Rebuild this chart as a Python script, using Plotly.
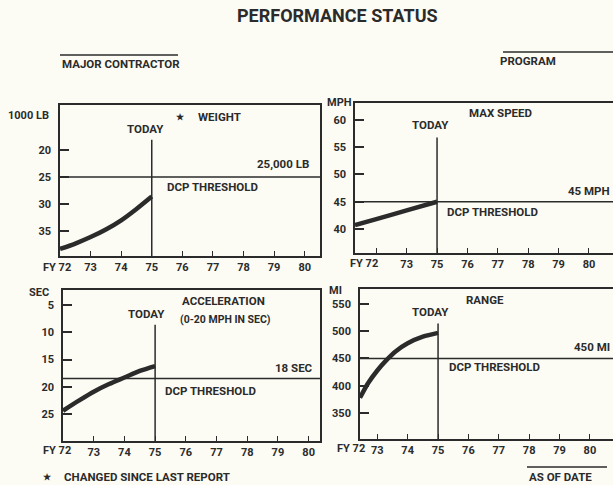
import plotly.graph_objects as go

W, H = 613, 485

# ---------------- data ----------------
today_year = 75

weight_years = [72, 72.5, 73, 73.5, 74, 74.5, 75]
weight_klb = [38.3, 37.3, 36.1, 34.7, 33.0, 30.9, 28.6]
weight_threshold = 25
weight_yticks = [20, 25, 30, 35]
weight_xtick_vals = [73, 74, 75, 76, 77, 78, 79, 80]
weight_xtick_text = ["73", "74", "75", "76", "77", "78", "79", "80"]

speed_years = [72.3, 73, 74, 75]
speed_mph = [40.7, 41.8, 43.4, 45.0]
speed_threshold = 45
speed_yticks = [40, 45, 50, 55, 60]
speed_xtick_vals = [73, 74, 75, 76, 77, 78, 79, 80]
speed_xtick_text = ["", "73", "75", "76", "77", "78", "79", "80"]

accel_years = [72, 72.5, 73, 73.5, 74, 74.5, 75]
accel_sec = [24.4, 22.6, 20.9, 19.5, 18.3, 17.1, 16.2]
accel_threshold = 18.5
accel_yticks = [5, 10, 15, 20, 25]
accel_xtick_vals = [73, 74, 75, 76, 77, 78, 79, 80]
accel_xtick_text = ["73", "74", "75", "76", "77", "78", "79", "80"]

range_years = [72.43, 72.7, 73.0, 73.3, 73.6, 74.0, 74.5, 75]
range_mi = [378, 405, 428, 447, 463, 478, 490, 497]
range_threshold = 450
range_yticks = [350, 400, 450, 500, 550]
range_xtick_vals = [73, 74, 75, 76, 77, 78, 79, 80]
range_xtick_text = ["73", "74", "75", "76", "77", "78", "79", "80"]

first_year_label = "FY 72"

# ---------------- style ----------------
FONT = "Roboto, Liberation Sans, sans-serif"
INK = "#2b2b2b"
BG = "#fcfcf5"


def px(x, y):
    return x / W, 1 - y / H


def dom_x(a, b):
    return [a / W, min(b / W, 1.0)]


def dom_y(top, bottom):
    return [1 - bottom / H, 1 - top / H]


panels = [
    dict(xs=weight_years, ys=weight_klb, thr=weight_threshold, yt=weight_yticks,
         xtv=weight_xtick_vals, xtt=weight_xtick_text,
         xd=dom_x(60, 320), yd=dom_y(105, 256), xr=[72, 80.5], yr=[39.6, 11.7], mirror=True),
    dict(xs=speed_years, ys=speed_mph, thr=speed_threshold, yt=speed_yticks,
         xtv=speed_xtick_vals, xtt=speed_xtick_text,
         xd=dom_x(355, 613), yd=dom_y(103, 253), xr=[72.3, 80.79], yr=[35.6, 63.1], mirror=False),
    dict(xs=accel_years, ys=accel_sec, thr=accel_threshold, yt=accel_yticks,
         xtv=accel_xtick_vals, xtt=accel_xtick_text,
         xd=dom_x(63, 320), yd=dom_y(290, 441), xr=[72, 80.37], yr=[29.95, 2.25], mirror=True),
    dict(xs=range_years, ys=range_mi, thr=range_threshold, yt=range_yticks,
         xtv=range_xtick_vals, xtt=range_xtick_text,
         xd=dom_x(360, 613), yd=dom_y(289, 439), xr=[72.43, 80.76], yr=[302.3, 577.5], mirror=False),
]

fig = go.Figure()
shapes = []
layout = {}

for i, p in enumerate(panels, start=1):
    sfx = "" if i == 1 else str(i)
    xa, ya = "x" + sfx, "y" + sfx
    fig.add_trace(go.Scatter(
        x=p["xs"], y=p["ys"], xaxis=xa, yaxis=ya, mode="lines",
        line=dict(color=INK, width=4.5, shape="spline", smoothing=0.8),
        showlegend=False, hoverinfo="skip"))
    layout["xaxis" + sfx] = dict(
        domain=p["xd"], range=p["xr"], anchor=ya, showgrid=False, zeroline=False,
        showline=True, mirror=True, linecolor=INK, linewidth=1.6,
        ticks="inside", ticklen=5, tickwidth=1.3, tickcolor=INK,
        tickvals=p["xtv"], ticktext=p["xtt"],
        tickfont=dict(family=FONT, size=11, color=INK, weight="bold"),
        fixedrange=True)
    layout["yaxis" + sfx] = dict(
        domain=p["yd"], range=p["yr"], anchor=xa, showgrid=False, zeroline=False,
        showline=True, mirror=p["mirror"], linecolor=INK, linewidth=1.6,
        ticks="inside", ticklen=9, tickwidth=1.5, tickcolor=INK,
        tickvals=p["yt"], ticklabelstandoff=5,
        tickfont=dict(family=FONT, size=11, color=INK, weight="bold"),
        fixedrange=True)
    # DCP threshold line
    shapes.append(dict(type="line", xref=xa + " domain", yref=ya, x0=0, x1=1,
                       y0=p["thr"], y1=p["thr"], line=dict(color=INK, width=1.5)))
    # TODAY line
    shapes.append(dict(type="line", xref=xa, yref=ya + " domain", x0=today_year, x1=today_year,
                       y0=0, y1=0.77, line=dict(color=INK, width=1.5)))

# header / footer rules
for (x0, y0, x1, y1) in [(60, 55, 178, 55), (503, 52, 613, 52), (527, 467, 607, 467)]:
    a = px(x0, y0)
    b = px(x1, y1)
    shapes.append(dict(type="line", xref="paper", yref="paper", x0=a[0], y0=a[1], x1=b[0], y1=b[1],
                       line=dict(color=INK, width=1.5)))

texts = [
    # (text, x, y, xanchor, size)
    ("PERFORMANCE STATUS", 337, 16, "center", 18),
    ("MAJOR CONTRACTOR", 60, 64, "left", 11.5),
    ("PROGRAM", 498, 61, "left", 11.5),
    ("★", 48, 477, "center", 9),
    ("CHANGED SINCE LAST REPORT", 62, 477, "left", 11.5),
    ("AS OF DATE", 527, 477, "left", 11.5),
    # panel 1
    ("1000 LB", 51, 115, "right", 11),
    ("TODAY", 145, 129, "center", 11.5),
    ("★", 180, 117, "center", 9),
    ("WEIGHT", 196, 117, "left", 11.5),
    ("25,000 LB", 311, 164, "right", 11.5),
    ("DCP THRESHOLD", 165, 187, "left", 11.5),
    (first_year_label, 57, 267, "center", 11),
    # panel 2
    ("MPH", 354, 102, "right", 11),
    ("TODAY", 430, 125, "center", 11.5),
    ("MAX SPEED", 500, 113, "center", 11.5),
    ("45 MPH", 612, 191, "right", 11.5),
    ("DCP THRESHOLD", 445, 212, "left", 11.5),
    (first_year_label, 364, 263, "center", 11),
    # panel 3
    ("SEC", 51, 292, "right", 11),
    ("TODAY", 146, 314, "center", 11.5),
    ("ACCELERATION", 223, 301, "center", 11.5),
    ("(0-20 MPH IN SEC)", 225, 319, "center", 10.5),
    ("18 SEC", 315, 368, "right", 11.5),
    ("DCP THRESHOLD", 163, 391, "left", 11.5),
    (first_year_label, 57, 450, "center", 11),
    # panel 4
    ("MI", 344, 290, "right", 11),
    ("TODAY", 430, 312, "center", 11.5),
    ("RANGE", 485, 300, "center", 11.5),
    ("450 MI", 612, 347, "right", 11.5),
    ("DCP THRESHOLD", 447, 367, "left", 11.5),
    (first_year_label, 351, 448, "center", 11),
]

annotations = []
for t, x, y, xa, s in texts:
    ax, ay = px(x, y)
    annotations.append(dict(text=t, x=ax, y=ay, xref="paper", yref="paper",
                            xanchor=xa, yanchor="middle", showarrow=False,
                            font=dict(family=FONT, size=s, color=INK, weight="bold")))

fig.update_layout(
    width=W, height=H, margin=dict(l=0, r=0, t=0, b=0),
    paper_bgcolor=BG, plot_bgcolor=BG,
    shapes=shapes, annotations=annotations, showlegend=False,
    **layout)

fig.write_html("out.html", config={"displayModeBar": False},
               post_script="document.body.style.margin='0px';document.body.style.overflow='hidden';")
